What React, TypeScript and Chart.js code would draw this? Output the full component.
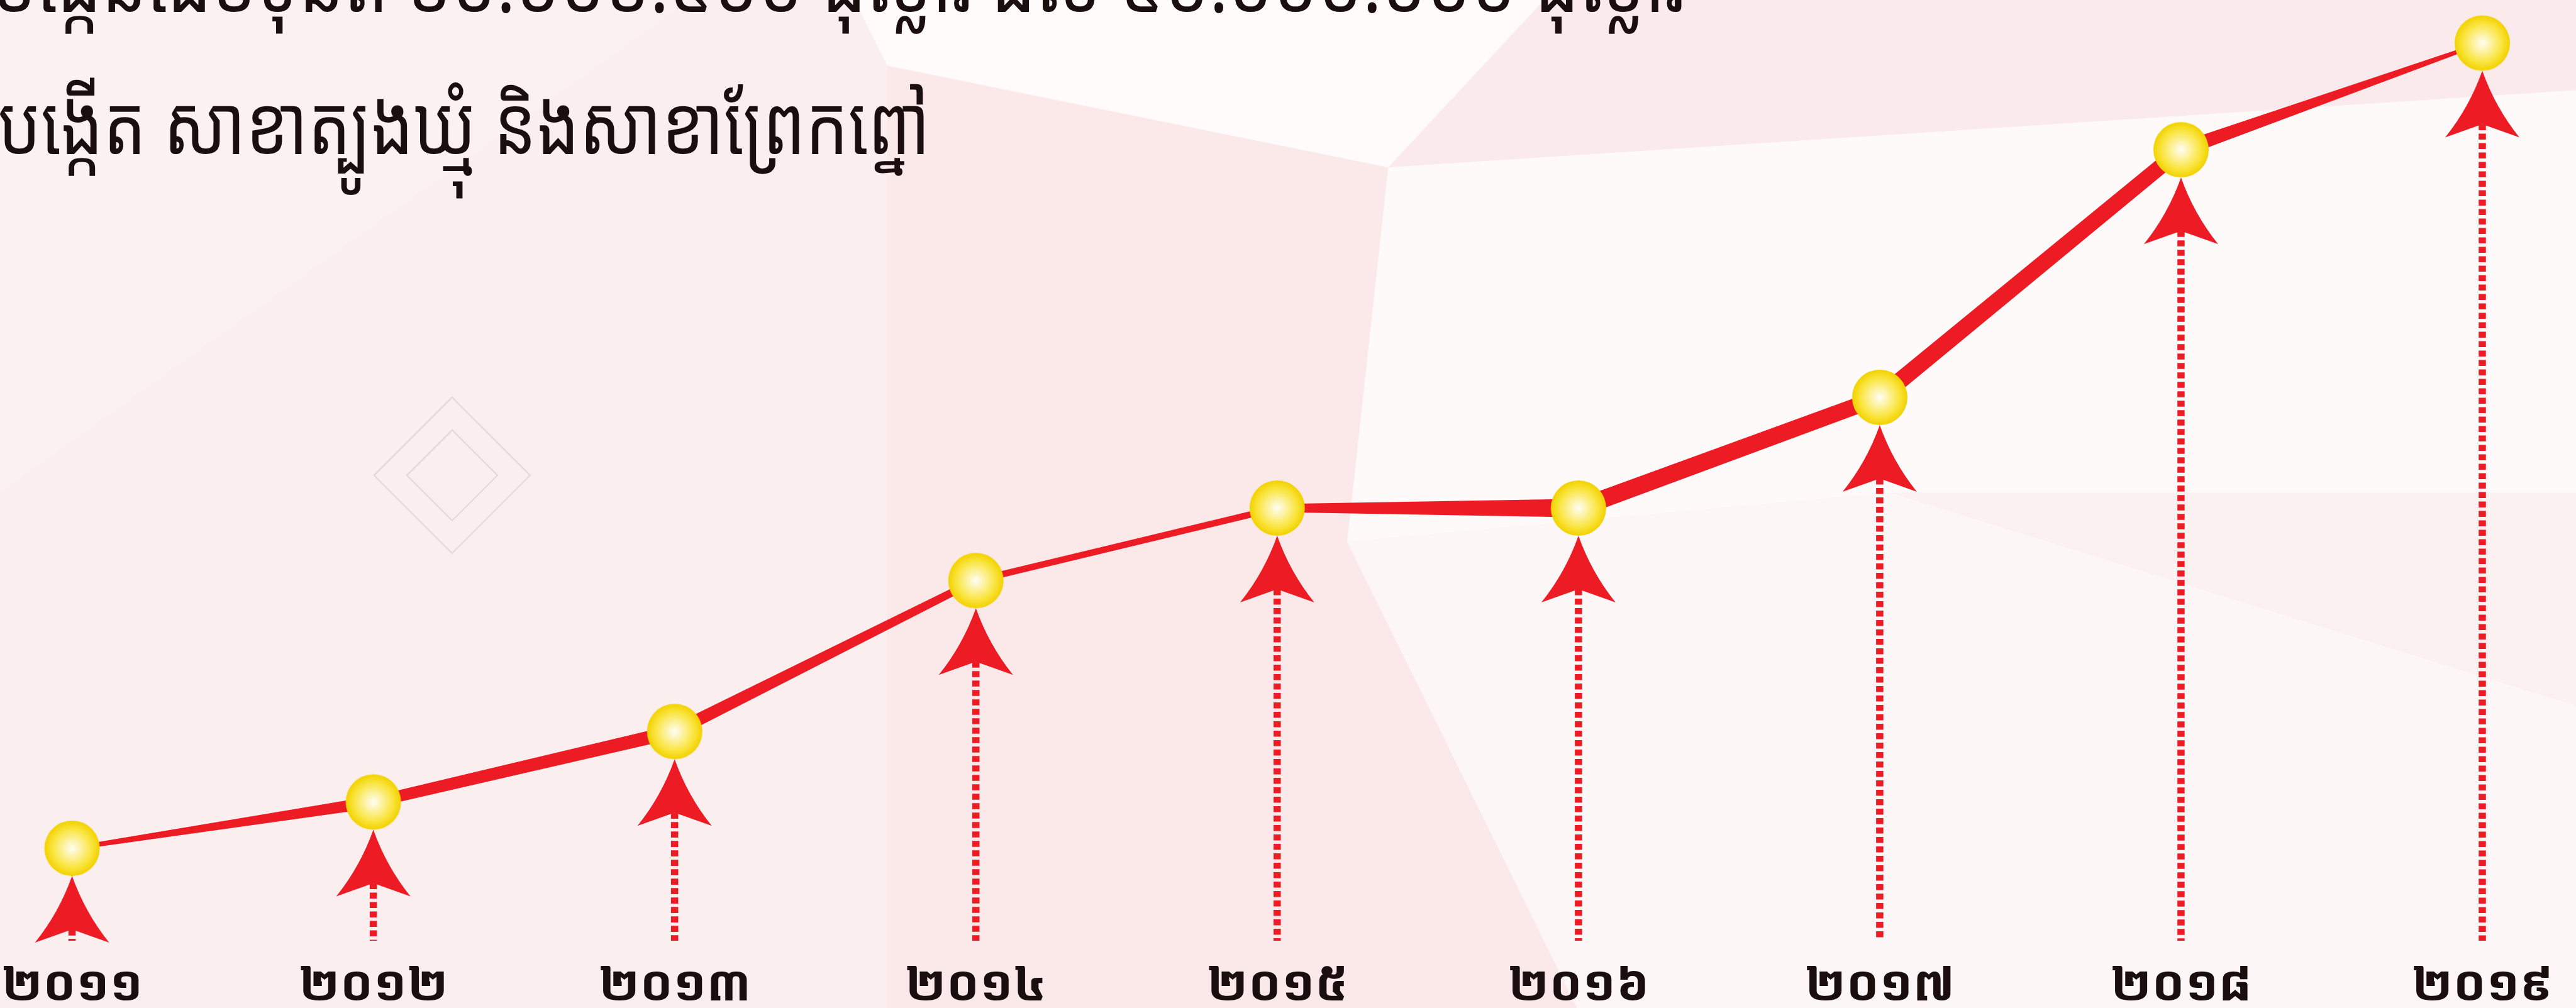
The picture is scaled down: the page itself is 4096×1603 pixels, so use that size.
import React, { useEffect, useRef } from 'react';
import { Chart, registerables } from 'chart.js';

Chart.register(...registerables);

// ---------- data ----------
const yearLabels = ['២០១១', '២០១២', '២០១៣', '២០១៤', '២០១៥', '២០១៦', '២០១៧', '២០១៨', '២០១៩'];
const capitalValues = [10.0, 12.3, 15.8, 23.3, 26.9, 26.9, 32.4, 44.7, 50.0];
const headlineCapital = 'បង្កើនដើមទុនពី ១០.០០១.៥០០ ដុល្លារ ដល់ ៥០.០០០.០០០ ដុល្លារ';
const headlineBranches = 'បង្កើត សាខាត្បូងឃ្មុំ និងសាខាព្រែកព្នៅ';

// ---------- layout / style ----------
const W = 4096;
const H = 1603;
const RED = '#ed1c24';
const TEXT = '#1a0e0e';
const FAMILY = '"Noto Sans Khmer", "Khmer OS", "Khmer OS System", "Hanuman", "Noto Sans", sans-serif';
const Y_MIN = 4.16;
const Y_MAX = 52.14;
const DOT_R = 44;
const ARROW_HALF = 59;
const ARROW_H = 106;
const ARROW_NOTCH = 21;
const DASH_W = 11.5;
const STEM_GAP = 40;
const TICK_LINE_H = 66;
// start / end stroke width of each tapered segment
const segmentTaper = [
  [6.4, 19.2], [18, 21.8], [20.5, 11.5], [10.2, 10.2],
  [12.8, 29.4], [28.2, 25.6], [26.9, 24.3], [23, 5.1],
];
// background facets, in 1568x614 units
const bgFacets: Array<[string, number[]]> = [
  ['#fbeeee', [0, 0, 540, 0, 540, 614, 0, 614]],
  ['#fcf1f1', [0, 0, 420, 0, 0, 300]],
  ['#fffbfb', [520, 0, 940, 0, 845, 102, 540, 40]],
  ['#fbeaeb', [940, 0, 1568, 0, 1568, 55, 845, 102]],
  ['#fefafa', [845, 102, 1568, 55, 1568, 430, 1150, 300, 820, 330]],
  ['#fbe8e9', [540, 40, 845, 102, 820, 330, 960, 614, 540, 614]],
  ['#fdf6f6', [820, 330, 1150, 300, 1568, 430, 1568, 614, 960, 614]],
  ['#fcf1f1', [1150, 300, 1568, 430, 1568, 300]],
];

function makeDot(): HTMLCanvasElement {
  const c = document.createElement('canvas');
  const s = DOT_R * 2 + 2;
  c.width = s;
  c.height = s;
  const g = c.getContext('2d')!;
  const cx = s / 2;
  const grad = g.createRadialGradient(cx, cx, 0, cx, cx, DOT_R);
  grad.addColorStop(0, '#fffef6');
  grad.addColorStop(0.3, '#fdf3a8');
  grad.addColorStop(0.7, '#fae53e');
  grad.addColorStop(1, '#f2d200');
  g.fillStyle = grad;
  g.beginPath();
  g.arc(cx, cx, DOT_R, 0, Math.PI * 2);
  g.fill();
  return c;
}

function measure(font: string, text: string) {
  const c = document.createElement('canvas').getContext('2d')!;
  c.font = font;
  return c.measureText(text);
}

const backgroundPlugin = {
  id: 'facetBackground',
  beforeDraw(chart: any) {
    const ctx = chart.ctx as CanvasRenderingContext2D;
    const sx = chart.width / 1568;
    const sy = chart.height / 614;
    ctx.save();
    ctx.fillStyle = '#fdf5f5';
    ctx.fillRect(0, 0, chart.width, chart.height);
    for (const [col, pts] of bgFacets) {
      ctx.fillStyle = col;
      ctx.beginPath();
      for (let i = 0; i < pts.length; i += 2) {
        const x = pts[i] * sx;
        const y = pts[i + 1] * sy;
        if (i === 0) ctx.moveTo(x, y); else ctx.lineTo(x, y);
      }
      ctx.closePath();
      ctx.fill();
    }
    // faint diamond ornament
    ctx.strokeStyle = 'rgba(200,180,180,0.35)';
    ctx.lineWidth = 2.5;
    const dcx = 275.2 * sx, dcy = 289.5 * sy;
    for (const r of [124, 72]) {
      ctx.beginPath();
      ctx.moveTo(dcx, dcy - r);
      ctx.lineTo(dcx + r, dcy);
      ctx.lineTo(dcx, dcy + r);
      ctx.lineTo(dcx - r, dcy);
      ctx.closePath();
      ctx.stroke();
    }
    // headline text
    ctx.fillStyle = TEXT;
    ctx.textBaseline = 'alphabetic';
    ctx.textAlign = 'left';
    const probe = measure(`100px ${FAMILY}`, 'ន');
    let ratio = probe.actualBoundingBoxAscent / 100;
    if (!(ratio > 0.2 && ratio < 1)) ratio = 0.55;
    const size = 76.8 / ratio;
    const font = `${size}px ${FAMILY}`;
    const lines: Array<[string, number, number, number]> = [
      [headlineCapital, -13, 2680, 19],
      [headlineBranches, -3, 1479, 245],
    ];
    for (const [txt, x0, x1, base] of lines) {
      const w = measure(font, txt).width;
      ctx.save();
      ctx.font = font;
      ctx.translate(x0, base);
      ctx.scale((x1 - x0) / w, 1);
      ctx.fillText(txt, 0, 0);
      ctx.restore();
    }
    ctx.restore();
  },
};

const markerPlugin = {
  id: 'arrowMarkers',
  beforeDatasetsDraw(chart: any) {
    const ctx = chart.ctx as CanvasRenderingContext2D;
    const meta = chart.getDatasetMeta(0);
    const pts = meta.data.map((p: any) => ({ x: p.x, y: p.y }));
    const bottom = chart.chartArea.bottom - STEM_GAP;
    ctx.save();
    // dashed stems
    ctx.strokeStyle = RED;
    ctx.lineWidth = DASH_W;
    ctx.setLineDash([9.6, 5.4]);
    for (const p of pts) {
      const notch = p.y + DOT_R + ARROW_H - ARROW_NOTCH;
      if (notch < bottom) {
        ctx.beginPath();
        ctx.moveTo(p.x, notch);
        ctx.lineTo(p.x, bottom);
        ctx.stroke();
      }
    }
    ctx.setLineDash([]);
    // arrow heads
    ctx.fillStyle = RED;
    for (const p of pts) {
      const tip = p.y + DOT_R;
      const base = tip + ARROW_H;
      ctx.beginPath();
      ctx.moveTo(p.x, tip);
      ctx.quadraticCurveTo(p.x + ARROW_HALF * 0.35, tip + ARROW_H * 0.55, p.x + ARROW_HALF, base);
      ctx.lineTo(p.x, base - ARROW_NOTCH);
      ctx.lineTo(p.x - ARROW_HALF, base);
      ctx.quadraticCurveTo(p.x - ARROW_HALF * 0.35, tip + ARROW_H * 0.55, p.x, tip);
      ctx.closePath();
      ctx.fill();
    }
    // tapered connecting line
    for (let i = 0; i < pts.length - 1; i++) {
      const a = pts[i];
      const b = pts[i + 1];
      const [w0, w1] = segmentTaper[i] || [12, 12];
      const dx = b.x - a.x;
      const dy = b.y - a.y;
      const len = Math.hypot(dx, dy) || 1;
      const nx = -dy / len;
      const ny = dx / len;
      ctx.beginPath();
      ctx.moveTo(a.x + nx * w0 / 2, a.y + ny * w0 / 2);
      ctx.lineTo(b.x + nx * w1 / 2, b.y + ny * w1 / 2);
      ctx.lineTo(b.x - nx * w1 / 2, b.y - ny * w1 / 2);
      ctx.lineTo(a.x - nx * w0 / 2, a.y - ny * w0 / 2);
      ctx.closePath();
      ctx.fill();
    }
    ctx.restore();
  },
};

export default function App() {
  const ref = useRef<HTMLCanvasElement>(null);
  useEffect(() => {
    document.body.style.margin = '0';
    const canvas = ref.current!;
    const dot = makeDot();

    // x tick font sized to the label width
    const mw = measure(`bold 100px ${FAMILY}`, yearLabels[0]).width || 200;
    const tickSize = (100 * 196 * 1.15) / mw;
    const padBottom = 1;

    const chart = new Chart(canvas, {
      type: 'line',
      data: {
        labels: yearLabels,
        datasets: [
          {
            data: capitalValues,
            showLine: false,
            pointStyle: dot as any,
            pointRadius: DOT_R,
            pointHoverRadius: DOT_R,
            borderWidth: 0,
            clip: false as any,
          },
        ],
      },
      options: {
        animation: false,
        responsive: false,
        devicePixelRatio: 1,
        events: [],
        layout: { autoPadding: false, padding: { left: 114.6, right: 149, top: 0, bottom: padBottom } },
        plugins: {
          legend: { display: false },
          tooltip: { enabled: false },
        },
        scales: {
          x: {
            grid: { display: false, drawTicks: false },
            border: { display: false },
            ticks: {
              autoSkip: false,
              maxRotation: 0,
              padding: 0,
              color: TEXT,
              font: { family: FAMILY, size: tickSize, weight: 'bold', lineHeight: TICK_LINE_H / tickSize },
            },
          },
          y: { display: false, min: Y_MIN, max: Y_MAX },
        },
      },
      plugins: [backgroundPlugin, markerPlugin],
    });
    return () => chart.destroy();
  }, []);
  return (
    <div style={{ position: 'fixed', left: 0, top: 0, width: W, height: H, overflow: 'hidden' }}>
      <canvas ref={ref} width={W} height={H} style={{ display: 'block', width: W, height: H }} />
    </div>
  );
}
